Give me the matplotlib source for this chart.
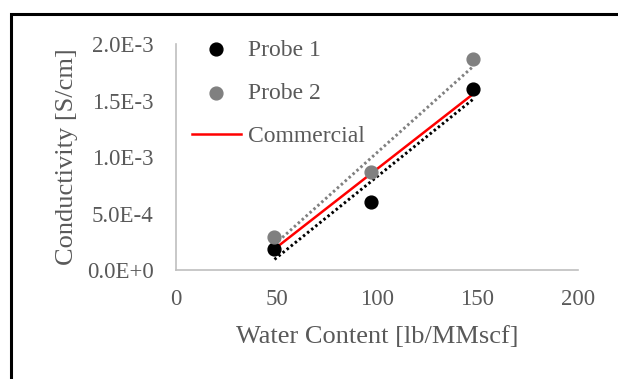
import numpy as np
import matplotlib
matplotlib.use("Agg")
import matplotlib.pyplot as plt
from matplotlib.patches import Rectangle

plt.rcParams['font.family'] = ['Liberation Serif', 'DejaVu Serif']

# data
probe1_x = [49, 97, 148]
probe1_y = [1.85e-4, 6.05e-4, 1.60e-3]
probe2_x = [49, 97, 148]
probe2_y = [2.9e-4, 8.65e-4, 1.865e-3]
commercial_x = [50, 148]
commercial_y = [2.0e-4, 1.56e-3]
xticks = [0, 50, 100, 150, 200]
yticks = [0.0, 5.0e-4, 1.0e-3, 1.5e-3, 2.0e-3]
ytick_labels = ['0.0E+0', '5.0E-4', '1.0E-3', '1.5E-3', '2.0E-3']

TXT = '#595959'
AX = '#BFBFBF'

fig = plt.figure(figsize=(6.18, 3.79), dpi=100)
ax = fig.add_axes([176/618, 1-270/379, 402/618, 226/379])

# frame around the chart
fig.patches.append(Rectangle((11/618, -0.2), 1.2, 1 + 0.2 - 14/379, transform=fig.transFigure,
                             fill=False, edgecolor='black', linewidth=2.2, zorder=-1))

# linear trendlines
for xs, ys, c in [(probe1_x, probe1_y, 'black'), (probe2_x, probe2_y, '#808080')]:
    m, b = np.polyfit(xs, ys, 1)
    xx = np.array([xs[0], xs[-1]])
    ax.plot(xx, m*xx + b, color=c, linewidth=2.1, linestyle=(0, (0.85, 0.95)),
            dash_capstyle='butt', zorder=2)

ax.plot(commercial_x, commercial_y, color='#FF0000', linewidth=1.8, zorder=3, label='Commercial')
ax.scatter(probe1_x, probe1_y, s=85, color='black', zorder=4, label='Probe 1')
ax.scatter(probe2_x, probe2_y, s=85, color='#808080', zorder=4, label='Probe 2')

ax.set_xlim(0, 200)
ax.set_ylim(0, 2.0e-3)
ax.set_xticks(xticks)
ax.set_yticks(yticks)
ax.set_yticklabels(ytick_labels)
ax.tick_params(length=0, labelsize=16.5, colors=TXT)
ax.tick_params(axis='y', pad=16)
ax.tick_params(axis='x', pad=13.5)
for s in ['top', 'right']:
    ax.spines[s].set_visible(False)
for s in ['left', 'bottom']:
    ax.spines[s].set_color(AX)
    ax.spines[s].set_linewidth(1.2)

ax.set_xlabel('Water Content [lb/MMscf]', fontsize=19, color=TXT, labelpad=12)
ax.set_ylabel('Conductivity [S/cm]', fontsize=19, color=TXT, labelpad=6.5)

h, l = ax.get_legend_handles_labels()
order = [1, 2, 0]
leg = ax.legend([h[i] for i in order], [l[i] for i in order], loc='upper left',
                bbox_to_anchor=(0.01, 1.074), frameon=False, fontsize=17, borderpad=0,
                labelspacing=0.92, handlelength=2.08, handletextpad=0.3, labelcolor=TXT)

fig.savefig('out.png', dpi=100)
